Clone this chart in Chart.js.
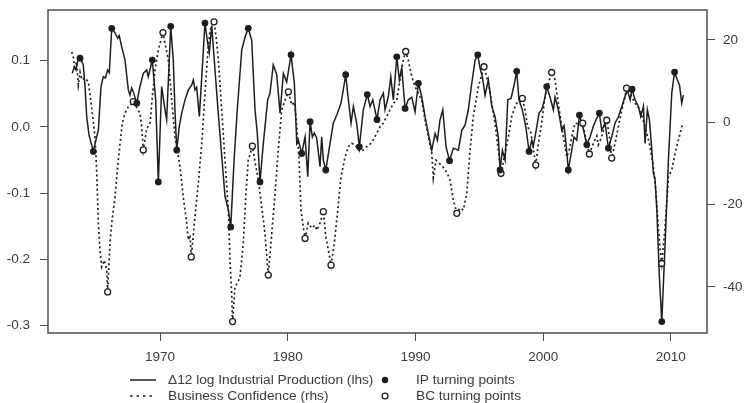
<!DOCTYPE html>
<html>
<head>
<meta charset="utf-8">
<script src="https://cdn.jsdelivr.net/npm/chart.js@4/dist/chart.umd.min.js"></script>
<style>
  html, body { margin: 0; padding: 0; background: #fff; }
  #wrap { width: 744px; height: 403px; }
</style>
</head>
<body>
<div id="wrap"><canvas id="chart" width="744" height="403"></canvas></div>
<script>
// Δ12 log industrial production (left axis)
const ipYears = [
  1963.13,1963.29,1963.42,1963.56,1963.74,1963.99,1964.13,1964.26,1964.44,1964.78,
  1965.04,1965.17,1965.38,1965.56,1965.72,1965.90,1966.03,1966.22,1966.48,1966.69,
  1966.81,1967.00,1967.26,1967.52,1967.65,1967.78,1967.91,1968.18,1968.43,1968.69,
  1968.96,1969.08,1969.40,1969.66,1969.87,1970.13,1970.39,1970.52,1970.84,1971.04,
  1971.17,1971.31,1971.51,1971.70,1971.96,1972.22,1972.48,1972.61,1972.74,1972.87,
  1973.08,1973.27,1973.52,1973.70,1973.86,1974.05,1974.54,1975.09,1975.35,1975.54,
  1975.80,1976.05,1976.40,1976.66,1976.91,1977.18,1977.44,1977.62,1977.83,1978.09,
  1978.43,1978.61,1978.87,1979.14,1979.40,1979.66,1979.92,1980.26,1980.52,1980.71,
  1980.83,1981.10,1981.36,1981.57,1981.75,1981.93,1982.08,1982.27,1982.53,1982.66,
  1982.79,1982.98,1983.23,1983.57,1983.84,1984.17,1984.35,1984.54,1984.75,1984.96,
  1985.14,1985.40,1985.61,1985.92,1986.23,1986.45,1986.66,1986.99,1987.23,1987.49,
  1987.62,1987.88,1988.07,1988.27,1988.54,1988.74,1988.93,1989.19,1989.44,1989.71,
  1989.97,1990.23,1990.49,1990.75,1991.01,1991.28,1991.54,1991.72,1991.93,1992.14,
  1992.40,1992.67,1992.97,1993.36,1993.63,1993.89,1994.14,1994.41,1994.67,1994.88,
  1995.06,1995.24,1995.45,1995.71,1995.98,1996.23,1996.49,1996.63,1996.81,1997.02,
  1997.23,1997.49,1997.75,1997.93,1998.11,1998.37,1998.64,1998.90,1999.11,1999.23,
  1999.42,1999.68,1999.89,2000.10,2000.28,2000.54,2000.80,2000.93,2001.19,2001.46,
  2001.64,2001.79,2001.97,2002.24,2002.42,2002.63,2002.84,2003.10,2003.42,2003.67,
  2003.93,2004.14,2004.40,2004.59,2004.85,2005.11,2005.37,2005.63,2005.89,2006.16,
  2006.41,2006.59,2006.81,2006.96,2007.20,2007.46,2007.64,2007.85,2007.98,2008.16,
  2008.32,2008.51,2008.63,2008.76,2008.90,2009.10,2009.29,2009.55,2009.81,2010.07,
  2010.29,2010.51,2010.68,2010.85,2010.98
];
const ipValues = [
  0.081,0.091,0.086,0.100,0.104,0.094,0.061,0.016,-0.012,-0.037,
  -0.015,-0.005,0.061,0.076,0.074,0.086,0.082,0.149,0.142,0.134,
  0.138,0.121,0.101,0.056,0.048,0.059,0.053,0.036,0.061,0.081,
  0.086,0.076,0.101,0.041,-0.083,0.061,0.026,0.011,0.152,0.101,
  0.026,-0.035,0.001,0.021,0.041,0.056,0.063,0.071,0.056,0.060,
  0.016,0.076,0.157,0.131,0.112,0.153,0.026,-0.105,-0.125,-0.151,
  -0.050,0.026,0.116,0.136,0.149,0.131,0.026,-0.010,-0.083,-0.025,
  0.041,0.051,0.094,0.079,0.021,0.081,0.068,0.109,0.066,-0.025,
  -0.020,-0.040,-0.015,-0.075,0.008,-0.015,-0.009,-0.017,-0.060,-0.015,
  -0.050,-0.065,-0.035,0.006,0.018,0.036,0.056,0.079,0.041,0.006,
  0.031,0.006,-0.030,0.026,0.049,0.031,0.041,0.011,0.041,0.051,
  0.026,0.046,0.076,0.041,0.106,0.071,0.089,0.028,0.041,0.045,
  0.023,0.066,0.046,0.016,-0.010,-0.035,-0.010,-0.020,0.011,0.026,
  -0.030,-0.051,-0.032,-0.035,-0.005,0.003,0.026,0.066,0.101,0.109,
  0.089,0.076,0.048,0.071,0.031,0.016,-0.015,-0.065,-0.035,-0.050,
  0.041,0.043,0.066,0.084,0.041,0.026,0.001,-0.037,-0.020,-0.029,
  -0.009,0.021,0.026,0.041,0.061,0.045,0.026,0.045,0.026,-0.005,
  0.002,-0.025,-0.065,-0.035,-0.015,-0.020,0.018,0.001,-0.027,-0.015,
  0.001,0.011,0.021,-0.005,0.006,-0.032,-0.015,0.006,0.015,0.031,
  0.046,0.056,0.041,0.057,0.041,0.031,0.016,0.031,-0.025,0.026,
  0.011,-0.035,-0.070,-0.078,-0.125,-0.226,-0.294,-0.176,-0.050,0.051,
  0.083,0.071,0.063,0.036,0.048
];

// business confidence (right axis)
const bcYears = [
  1963.09,1963.23,1963.34,1963.46,1963.60,1963.74,1963.89,1964.13,1964.39,1964.65,
  1964.91,1965.04,1965.17,1965.30,1965.43,1965.64,1965.83,1965.90,1966.08,1966.22,
  1966.48,1966.73,1967.05,1967.26,1967.52,1967.78,1967.91,1968.43,1968.57,1968.69,
  1968.96,1969.22,1969.40,1969.61,1969.87,1970.23,1970.65,1970.92,1971.17,1971.57,
  1971.82,1972.09,1972.22,1972.35,1972.45,1972.74,1973.00,1973.27,1973.52,1973.78,
  1973.92,1974.23,1974.39,1974.57,1974.83,1975.09,1975.35,1975.48,1975.61,1975.68,
  1975.87,1976.05,1976.26,1976.52,1976.73,1976.91,1977.23,1977.44,1977.70,1977.96,
  1978.22,1978.34,1978.48,1978.75,1979.01,1979.26,1979.53,1979.79,1980.05,1980.31,
  1980.53,1980.71,1980.89,1981.04,1981.22,1981.36,1981.61,1981.88,1982.14,1982.27,
  1982.53,1982.79,1982.98,1983.18,1983.39,1983.65,1983.92,1984.17,1984.49,1984.75,
  1985.01,1985.27,1985.66,1985.92,1986.19,1986.45,1986.70,1986.97,1987.23,1987.49,
  1987.75,1988.01,1988.27,1988.54,1988.79,1989.05,1989.24,1989.44,1989.71,1989.97,
  1990.23,1990.49,1990.75,1991.01,1991.28,1991.40,1991.61,1991.85,1992.14,1992.45,
  1992.71,1992.97,1993.24,1993.49,1993.75,1994.02,1994.28,1994.53,1994.93,1995.37,
  1995.58,1995.76,1995.98,1996.23,1996.49,1996.70,1997.02,1997.28,1997.54,1997.80,
  1998.06,1998.37,1998.58,1998.79,1999.05,1999.42,1999.63,1999.84,2000.15,2000.41,
  2000.67,2000.93,2001.19,2001.38,2001.58,2001.85,2002.05,2002.24,2002.50,2002.76,
  2003.10,2003.42,2003.62,2003.93,2004.20,2004.32,2004.59,2004.85,2004.98,2005.19,
  2005.37,2005.63,2005.89,2006.16,2006.41,2006.53,2006.81,2007.20,2007.59,2007.98,
  2008.32,2008.63,2008.84,2009.02,2009.16,2009.29,2009.55,2009.81,2010.07,2010.33,
  2010.59,2010.93
];
const bcValues = [
  17.1,15.6,12.7,14.7,9.1,12.2,10.3,10.8,9.8,3.5,
  -3.5,-11.6,-24.5,-31.0,-35.1,-33.5,-35.9,-41.2,-29.4,-24.5,
  -18.1,-9.2,-0.2,2.2,3.8,4.5,5.0,2.2,-1.1,-6.7,
  -1.5,-0.2,6.2,12.7,17.6,21.8,15.1,5.4,-3.5,-10.8,
  -18.1,-24.5,-28.6,-27.4,-32.7,-22.9,-14.8,-5.1,7.0,18.4,
  22.4,24.4,20.8,15.1,3.0,-9.2,-21.3,-33.5,-41.5,-48.4,
  -39.9,-39.1,-37.6,-29.4,-17.3,-9.2,-5.8,-9.6,-14.0,-20.5,
  -27.0,-31.8,-37.1,-27.0,-17.3,-6.7,3.0,5.4,7.4,4.2,
  4.9,-1.1,-9.2,-21.3,-25.4,-28.2,-24.5,-25.7,-25.0,-26.2,
  -24.5,-21.7,-27.8,-31.0,-34.7,-29.4,-21.3,-13.2,-8.4,-5.9,
  -5.1,-5.5,-7.1,-6.7,-5.9,-5.3,-4.3,-2.7,-1.1,-0.2,
  1.4,3.0,4.6,5.4,10.3,15.1,17.2,15.1,11.1,8.7,
  7.0,5.4,0.6,-3.5,-7.5,-13.5,-9.2,-9.9,-10.8,-12.1,
  -14.0,-18.9,-22.1,-20.8,-21.3,-17.3,-6.7,1.4,8.7,13.5,
  11.1,8.8,4.6,-0.2,-6.7,-12.4,-7.5,-3.5,1.4,3.8,
  5.4,5.8,3.0,-1.1,-2.6,-10.4,-5.1,-1.1,6.2,9.5,
  12.1,10.3,4.6,0.6,-3.5,-8.4,-6.7,-3.5,-0.2,-0.4,
  -0.2,-5.1,-7.7,-5.1,-3.3,-5.5,-3.5,-0.2,0.5,-3.5,
  -8.7,-5.1,-1.1,3.0,6.2,8.3,7.0,4.6,3.0,-1.1,
  -5.1,-10.8,-17.3,-25.4,-31.0,-34.3,-25.4,-13.2,-11.6,-7.5,
  -4.3,-0.2
];

// turning points
const ipTurnYears = [1963.74,1964.78,1966.22,1968.18,1969.40,1969.87,1970.84,1971.31,1973.52,1975.54,
  1976.91,1977.83,1980.26,1981.10,1981.75,1982.98,1984.54,1985.61,1986.23,1986.99,
  1988.54,1989.19,1990.23,1992.67,1994.88,1996.63,1997.93,1998.90,2000.28,2001.97,
  2002.84,2003.42,2004.40,2005.11,2006.96,2009.29,2010.29];
const ipTurnValues = [0.104,-0.037,0.149,0.036,0.101,-0.083,0.152,-0.035,0.157,-0.151,
  0.149,-0.083,0.109,-0.040,0.008,-0.065,0.079,-0.030,0.049,0.011,
  0.106,0.028,0.066,-0.051,0.109,-0.065,0.084,-0.037,0.061,-0.065,
  0.018,-0.027,0.021,-0.032,0.057,-0.294,0.083];
const bcTurnYears = [1965.90,1967.91,1968.69,1970.23,1972.45,1974.23,1975.68,1977.23,1978.48,1980.05,
  1981.36,1982.79,1983.39,1989.24,1993.24,1995.37,1996.70,1998.37,1999.42,2000.67,
  2003.10,2003.62,2004.98,2005.37,2006.53,2009.29];
const bcTurnValues = [-41.2,5.0,-6.7,21.8,-32.7,24.4,-48.4,-5.8,-37.1,7.4,
  -28.2,-21.7,-34.7,17.2,-22.1,13.5,-12.4,5.8,-10.4,12.1,
  -0.2,-7.7,0.5,-8.7,8.3,-34.3];

// axis ticks
const xTickYears = [1970, 1980, 1990, 2000, 2010];
const ipTicks = [-0.3, -0.2, -0.1, 0.0, 0.1];
const bcTicks = [-40, -20, 0, 20];

const legendLabels = ["\u039412 log Industrial Production (lhs)", "Business Confidence (rhs)",
  "IP turning points", "BC turning points"];

const FONT = '"Liberation Sans", Arial, Helvetica, sans-serif';
const INK = "#1e1e1e";
const TEXT = "#3a3a3a";
const FRAME = "#4d4d4d";

function toPoints(xs, ys) {
  return xs.map((x, i) => ({ x: x, y: ys[i] }));
}

// box around the plot + legend underneath
const frameAndLegend = {
  id: "frameAndLegend",
  afterDraw(chart) {
    const { ctx, chartArea } = chart;
    ctx.save();
    ctx.strokeStyle = FRAME;
    ctx.lineWidth = 1.5;
    ctx.strokeRect(chartArea.left, chartArea.top,
      chartArea.right - chartArea.left, chartArea.bottom - chartArea.top);

    ctx.font = "13.7px " + FONT;
    ctx.fillStyle = TEXT;
    ctx.textBaseline = "middle";
    const rows = [380, 396];

    ctx.strokeStyle = INK;
    ctx.lineWidth = 1.5;
    ctx.beginPath();
    ctx.moveTo(130, rows[0]); ctx.lineTo(156, rows[0]);
    ctx.stroke();
    ctx.setLineDash([2.5, 4]);
    ctx.beginPath();
    ctx.moveTo(130, rows[1]); ctx.lineTo(156, rows[1]);
    ctx.stroke();
    ctx.setLineDash([]);

    ctx.fillText(legendLabels[0], 168, rows[0]);
    ctx.fillText(legendLabels[1], 168, rows[1]);

    ctx.fillStyle = INK;
    ctx.beginPath();
    ctx.arc(385, rows[0], 3.2, 0, Math.PI * 2);
    ctx.fill();
    ctx.lineWidth = 1.3;
    ctx.beginPath();
    ctx.arc(385, rows[1], 2.9, 0, Math.PI * 2);
    ctx.stroke();

    ctx.fillStyle = TEXT;
    ctx.fillText(legendLabels[2], 416, rows[0]);
    ctx.fillText(legendLabels[3], 416, rows[1]);
    ctx.restore();
  }
};

const tickFont = { family: FONT, size: 13.5 };

// vertical axes: fixed width, no extra room for half tick labels
function fitVertical(width) {
  return (s) => {
    s.width = width;
    s.paddingTop = 0;
    s.paddingBottom = 0;
  };
}

new Chart(document.getElementById("chart"), {
  type: "scatter",
  data: {
    datasets: [
      {
        label: "IP",
        data: toPoints(ipYears, ipValues),
        yAxisID: "y",
        showLine: true,
        borderColor: INK,
        borderWidth: 1.5,
        pointRadius: 0,
        tension: 0,
        order: 3
      },
      {
        label: "BC",
        data: toPoints(bcYears, bcValues),
        yAxisID: "y2",
        showLine: true,
        borderColor: INK,
        borderWidth: 1.7,
        borderDash: [2, 2.8],
        pointRadius: 0,
        tension: 0,
        order: 4
      },
      {
        label: "IP turning points",
        data: toPoints(ipTurnYears, ipTurnValues),
        yAxisID: "y",
        pointRadius: 3.4,
        pointBackgroundColor: INK,
        pointBorderColor: INK,
        pointBorderWidth: 0,
        order: 1
      },
      {
        label: "BC turning points",
        data: toPoints(bcTurnYears, bcTurnValues),
        yAxisID: "y2",
        pointRadius: 3,
        pointBackgroundColor: "#fff",
        pointBorderColor: INK,
        pointBorderWidth: 1.3,
        order: 2
      }
    ]
  },
  options: {
    responsive: false,
    animation: false,
    devicePixelRatio: 1,
    layout: { padding: { top: 10, left: 0, right: 0, bottom: 0 } },
    plugins: { legend: { display: false }, tooltip: { enabled: false } },
    scales: {
      x: {
        type: "linear",
        position: "bottom",
        min: 1961.23,
        max: 2012.83,
        afterBuildTicks: (s) => { s.ticks = xTickYears.map(v => ({ value: v })); },
        afterFit: (s) => { s.height = 70; },
        grid: { drawOnChartArea: false, drawTicks: true, tickLength: 8, color: FRAME },
        border: { display: false },
        ticks: { padding: 8, color: TEXT, font: tickFont, maxRotation: 0, autoSkip: false,
                 callback: (v) => String(v) }
      },
      y: {
        type: "linear",
        position: "left",
        min: -0.3112,
        max: 0.1767,
        afterBuildTicks: (s) => { s.ticks = ipTicks.map(v => ({ value: v })); },
        afterFit: fitVertical(48),
        grid: { drawOnChartArea: false, drawTicks: true, tickLength: 8, color: FRAME },
        border: { display: false },
        ticks: { padding: 10, color: TEXT, font: tickFont, autoSkip: false,
                 callback: (v) => v.toFixed(1) }
      },
      y2: {
        type: "linear",
        position: "right",
        min: -51.18,
        max: 27.28,
        afterBuildTicks: (s) => { s.ticks = bcTicks.map(v => ({ value: v })); },
        afterFit: fitVertical(37),
        grid: { drawOnChartArea: false, drawTicks: true, tickLength: 8, color: FRAME },
        border: { display: false },
        ticks: { padding: 8, color: TEXT, font: tickFont, autoSkip: false,
                 callback: (v) => String(v) }
      }
    }
  },
  plugins: [frameAndLegend]
});
</script>
</body>
</html>
